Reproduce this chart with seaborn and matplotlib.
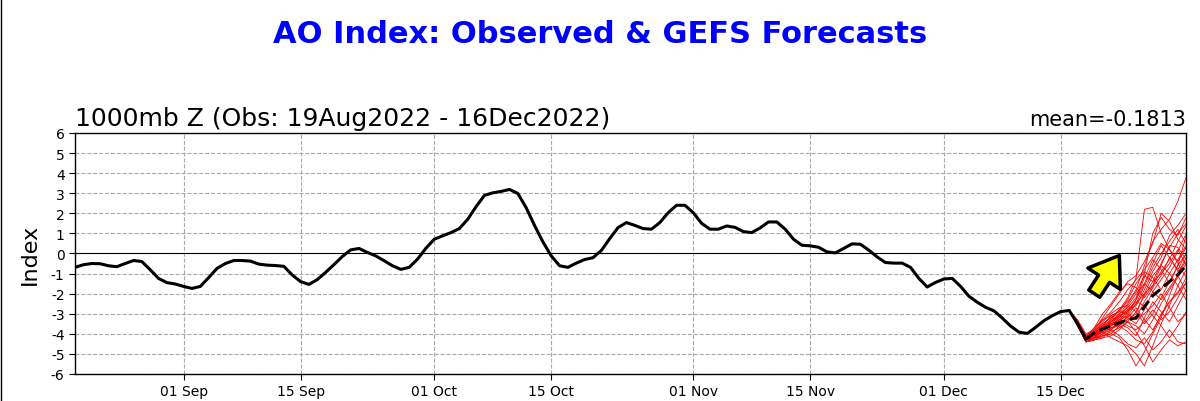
import numpy as np
import pandas as pd
import matplotlib
matplotlib.use('Agg')
import matplotlib.pyplot as plt
import matplotlib.dates as mdates
from matplotlib.lines import Line2D
import seaborn as sns

# observed AO index, daily from 19 Aug 2022 to 16 Dec 2022
obs = [-0.69, -0.56, -0.50, -0.51, -0.61, -0.66, -0.50, -0.35, -0.40, -0.81,
       -1.24, -1.45, -1.52, -1.64, -1.74, -1.64, -1.20, -0.74, -0.50, -0.35,
       -0.35, -0.38, -0.53, -0.58, -0.60, -0.64, -1.07, -1.40, -1.54, -1.30,
       -0.94, -0.55, -0.15, 0.18, 0.25, 0.05, -0.12, -0.36, -0.61, -0.79,
       -0.69, -0.28, 0.26, 0.71, 0.88, 1.04, 1.24, 1.70, 2.33, 2.89,
       3.02, 3.09, 3.19, 2.99, 2.28, 1.40, 0.58, -0.12, -0.61, -0.69,
       -0.48, -0.30, -0.21, 0.15, 0.74, 1.29, 1.54, 1.40, 1.24, 1.21,
       1.54, 2.03, 2.40, 2.40, 2.03, 1.50, 1.21, 1.21, 1.37, 1.30,
       1.09, 1.04, 1.27, 1.57, 1.57, 1.21, 0.71, 0.41, 0.38, 0.31,
       0.08, 0.03, 0.25, 0.48, 0.46, 0.17, -0.17, -0.45, -0.48, -0.48,
       -0.69, -1.24, -1.67, -1.44, -1.27, -1.24, -1.64, -2.13, -2.43, -2.68,
       -2.86, -3.22, -3.62, -3.92, -3.98, -3.67, -3.34, -3.09, -2.89, -2.84]
obs_dates = pd.date_range('2022-08-19', '2022-12-16', freq='D')

# GEFS forecast, daily from 16 Dec 2022 to 30 Dec 2022
fcst_dates = pd.date_range('2022-12-16', '2022-12-30', freq='D')
fcst_mean = [-2.84, -3.5, -4.27, -3.95, -3.75, -3.6, -3.45, -3.3, -3.2, -2.65,
             -2.1, -1.75, -1.4, -1.05, -0.6]

members = [
    [-2.84, -3.5, -4.3, -4.1, -3.7, -3.3, -2.8, -2.2, -1.2, 2.2, 2.3, 1.0, 0.2, -0.5, -1.2],
    [-2.84, -3.4, -4.2, -3.9, -3.5, -3.2, -3.0, -2.5, -1.8, -0.6, 0.6, 1.2, 1.7, 2.6, 3.8],
    [-2.84, -3.5, -4.4, -4.3, -4.1, -4.0, -4.2, -4.8, -5.6, -4.9, -4.0, -3.2, -2.1, -1.0, -0.2],
    [-2.84, -3.4, -4.1, -4.0, -3.9, -4.2, -4.4, -4.6, -5.0, -5.6, -4.6, -3.5, -2.6, -1.6, -0.8],
    [-2.84, -3.6, -4.3, -3.8, -3.3, -2.9, -2.4, -1.8, -1.3, -0.8, -0.2, 0.5, 0.2, -0.4, 0.3],
    [-2.84, -3.5, -4.2, -3.7, -3.0, -2.5, -1.9, -1.5, -1.7, -2.2, -1.6, -0.9, -0.3, 0.6, 1.4],
    [-2.84, -3.3, -4.0, -3.8, -3.6, -3.5, -3.6, -3.9, -4.3, -4.5, -3.9, -3.0, -2.4, -1.9, -1.5],
    [-2.84, -3.5, -4.3, -4.2, -4.0, -3.7, -3.5, -3.3, -3.0, -2.0, -1.1, -0.6, -1.0, -1.6, -2.3],
    [-2.84, -3.6, -4.4, -4.2, -3.9, -3.5, -3.1, -2.9, -2.5, -1.6, -0.7, 0.0, 0.6, 1.2, 0.5],
    [-2.84, -3.4, -4.2, -4.0, -3.7, -3.8, -4.1, -4.5, -4.7, -4.2, -4.8, -4.4, -3.8, -4.4, -4.5],
    [-2.84, -3.5, -4.3, -4.1, -3.8, -3.6, -3.4, -3.0, -2.3, -1.2, -0.3, -0.8, -1.5, -0.6, 0.9],
    [-2.84, -3.5, -4.2, -3.9, -3.4, -3.0, -2.7, -2.6, -2.9, -3.5, -3.0, -2.2, -1.4, -0.6, 0.0],
    [-2.84, -3.4, -4.1, -3.8, -3.2, -2.6, -2.0, -1.4, -1.1, -0.4, 0.5, 2.0, 1.6, 0.7, 0.2],
    [-2.84, -3.5, -4.4, -4.3, -4.2, -4.1, -3.8, -3.4, -3.6, -4.0, -3.3, -2.5, -1.8, -1.2, -0.5],
    [-2.84, -3.5, -4.3, -4.0, -3.6, -3.3, -3.1, -3.2, -3.5, -2.8, -1.9, -1.3, -0.7, 0.1, 1.0],
    [-2.84, -3.6, -4.4, -4.3, -4.0, -3.8, -3.5, -3.7, -4.1, -3.2, -2.4, -2.9, -3.4, -2.6, -1.8],
    [-2.84, -3.4, -4.1, -3.9, -3.7, -3.4, -3.2, -2.6, -2.0, -1.5, -1.9, -2.3, -1.7, -1.1, -1.9],
    [-2.84, -3.5, -4.2, -4.1, -3.9, -3.6, -3.2, -2.8, -2.4, -2.6, -3.1, -3.6, -4.2, -3.6, -2.9],
    [-2.84, -3.5, -4.3, -4.2, -4.1, -3.9, -3.7, -3.4, -2.9, -2.1, -1.4, -1.0, -0.5, 0.2, -0.6],
    [-2.84, -3.6, -4.4, -4.2, -3.8, -3.5, -3.3, -3.4, -3.9, -4.6, -5.4, -4.8, -4.3, -4.6, -4.4],
    [-2.84, -3.4, -4.1, -3.7, -3.3, -3.1, -2.9, -2.3, -1.5, -0.9, -1.2, -1.8, -1.0, -0.3, 0.4],
    [-2.84, -3.5, -4.3, -4.1, -3.8, -3.4, -3.0, -2.7, -2.2, -1.0, 1.0, 1.8, 1.2, 0.9, 1.8],
    [-2.84, -3.5, -4.2, -4.0, -3.6, -3.1, -2.9, -3.0, -3.3, -3.0, -2.6, -2.0, -2.7, -3.4, -3.0],
    [-2.84, -3.5, -4.3, -4.2, -4.1, -4.0, -3.6, -3.1, -2.5, -2.0, -1.6, -0.6, 0.4, 0.3, -0.3],
    [-2.84, -3.5, -4.2, -4.0, -3.7, -3.4, -3.1, -2.8, -2.6, -1.8, -0.9, -0.2, 0.9, 1.4, 2.0],
    [-2.84, -3.5, -4.3, -4.1, -3.9, -3.7, -3.6, -3.2, -2.7, -3.3, -3.8, -3.1, -2.4, -2.0, -1.2],
    [-2.84, -3.4, -4.2, -3.9, -3.5, -3.2, -2.8, -2.4, -1.9, -1.1, -1.4, -0.5, 0.3, 1.0, 1.5],
    [-2.84, -3.5, -4.3, -4.2, -3.8, -3.5, -3.4, -3.6, -3.8, -3.4, -2.8, -3.3, -2.9, -2.2, -1.4],
    [-2.84, -3.6, -4.4, -4.3, -4.2, -3.8, -3.3, -2.9, -2.3, -1.5, -0.5, 0.4, -0.2, -0.9, -0.4],
    [-2.84, -3.5, -4.2, -4.0, -3.8, -3.6, -3.3, -3.1, -3.2, -2.4, -1.7, -1.1, -0.2, -0.8, 0.0],
]

yticks = list(range(-6, 7))

# long table of ensemble members for seaborn
df_mem = pd.concat([pd.DataFrame({'date': fcst_dates, 'value': m, 'member': i})
                    for i, m in enumerate(members)], ignore_index=True)

sns.set_style('white')
plt.rcParams['font.family'] = ['DejaVu Sans']
plt.rcParams['axes.unicode_minus'] = False
for k in ['text.color', 'axes.labelcolor', 'xtick.color', 'ytick.color']:
    plt.rcParams[k] = 'black'

fig = plt.figure(figsize=(12, 4.02), dpi=100)
ax = fig.add_axes([0.0625, 0.0672, 0.926, 0.5995])

# grid + zero line
ax.grid(True, ls='--', color='#aaaaaa', lw=0.8)
ax.axhline(0, color='black', lw=0.8, zorder=2)

# ensemble members
sns.lineplot(data=df_mem, x='date', y='value', units='member', estimator=None,
             color='red', lw=0.6, ax=ax, legend=False, zorder=3)

# observed
sns.lineplot(x=obs_dates, y=obs, color='black', lw=2.2, ax=ax, zorder=4)

# ensemble mean (first step drawn solid, rest dashed)
sns.lineplot(x=fcst_dates[:3], y=fcst_mean[:3], color='black', lw=2.2, ax=ax, zorder=4)
sns.lineplot(x=fcst_dates[2:], y=fcst_mean[2:], color='black', lw=2.2, ls='--', ax=ax, zorder=4)

# yellow arrow
ax.annotate('', xy=(pd.Timestamp('2022-12-22'), -0.1), xytext=(pd.Timestamp('2022-12-19'), -2.0),
            arrowprops=dict(arrowstyle='simple,head_width=2.8,head_length=2.0,tail_width=0.95',
                            fc='yellow', ec='black', lw=2.5, shrinkA=0, shrinkB=0,
                            mutation_scale=10), zorder=5)

ax.set_ylim(-6, 6)
ax.set_yticks(yticks)
ax.set_xlim(pd.Timestamp('2022-08-19'), pd.Timestamp('2022-12-30'))
ax.xaxis.set_major_locator(mdates.DayLocator(bymonthday=[1, 15]))
ax.xaxis.set_major_formatter(mdates.DateFormatter('%d %b'))
ax.tick_params(axis='both', labelsize=10, length=4, direction='out', bottom=True, left=True)
for s in ax.spines.values():
    s.set_color('black')
    s.set_linewidth(1)

ax.set_xlabel('')
ax.set_ylabel('Index', fontsize=16, labelpad=8)
ax.set_title('1000mb Z (Obs: 19Aug2022 - 16Dec2022)', loc='left', fontsize=18)
ax.set_title('mean=-0.1813', loc='right', fontsize=15)

fig.text(0.5, 0.913, 'AO Index: Observed & GEFS Forecasts', ha='center', va='center',
         color='blue', fontsize=22, fontweight='bold')
fig.add_artist(Line2D([0.0005, 0.0005], [0, 1], color='black', lw=1, transform=fig.transFigure))

fig.savefig('out.png', dpi=100)
